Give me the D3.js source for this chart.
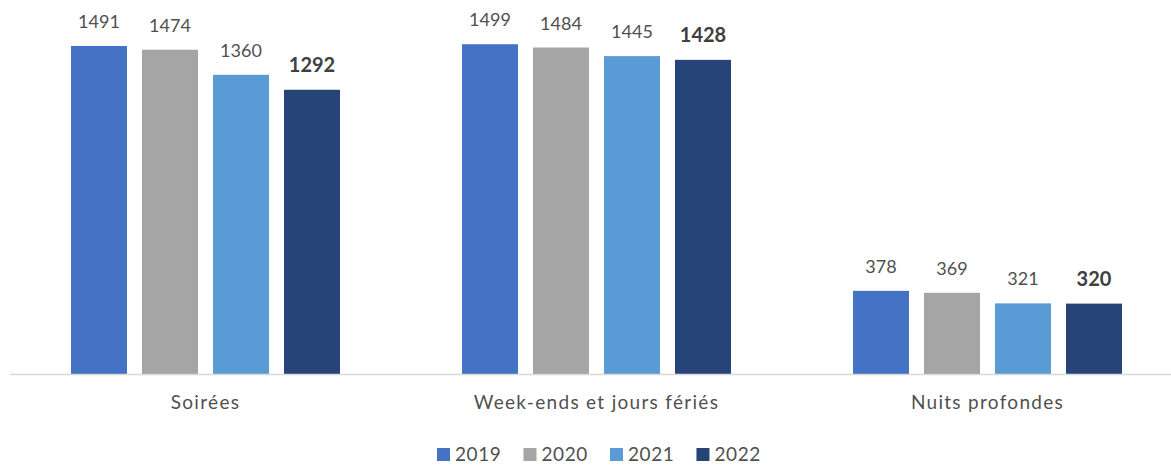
<!DOCTYPE html>
<html>
<head>
<meta charset="utf-8">
<script src="https://cdn.jsdelivr.net/npm/d3@7"></script>
<style>
  html, body { margin: 0; padding: 0; background: #fff; }
  svg { display: block; font-family: Lato, "Open Sans", sans-serif; }
</style>
</head>
<body>
<svg id="chart" width="1171" height="465"></svg>
<script>
// Time slots and the yearly values shown for each
const categories = ["Soirées", "Week-ends et jours fériés", "Nuits profondes"];
const years = ["2019", "2020", "2021", "2022"];
const v2019 = [1491, 1499, 378];
const v2020 = [1474, 1484, 369];
const v2021 = [1360, 1445, 321];
const v2022 = [1292, 1428, 320];
const colors = ["#4472C4", "#A5A5A5", "#5B9BD5", "#264478"];

const series = [v2019, v2020, v2021, v2022];
const rows = categories.map((c, i) => ({
  cat: c,
  vals: years.map((y, j) => ({ year: y, idx: j, value: series[j][i] }))
}));

const svg = d3.select("#chart");
const baseY = 374;
const textColor = "#505050";

const x0 = d3.scaleBand().domain(categories).range([10, 1183]);
const x1 = d3.scaleBand().domain(years).range([61, x0.bandwidth() - 61]).paddingInner(0.2113).paddingOuter(0);
const y = d3.scaleLinear().domain([0, 1600]).range([baseY, 22]);

// Bars
const groups = svg.append("g").selectAll("g").data(rows).join("g")
  .attr("transform", d => `translate(${x0(d.cat)},0)`);

groups.selectAll("rect").data(d => d.vals).join("rect")
  .attr("x", d => x1(d.year))
  .attr("y", d => y(d.value))
  .attr("width", x1.bandwidth())
  .attr("height", d => y(0) - y(d.value))
  .attr("fill", d => colors[d.idx]);

// Value labels, latest year in bold
groups.selectAll("text").data(d => d.vals).join("text")
  .attr("x", d => x1(d.year) + x1.bandwidth() / 2)
  .attr("y", d => y(d.value) - 18)
  .attr("text-anchor", "middle")
  .attr("font-size", d => d.idx === 3 ? 20 : 18)
  .attr("font-weight", d => d.idx === 3 ? 700 : 400)
  .attr("fill", d => d.idx === 3 ? "#404040" : textColor)
  .text(d => d.value);

// Category axis
const axis = svg.append("g").attr("transform", `translate(0,${baseY})`)
  .call(d3.axisBottom(x0).tickSize(0).tickPadding(0));
axis.select(".domain").attr("stroke", "#D9D9D9").attr("stroke-width", 1.5)
  .attr("d", "M10,0.5H1171");
axis.selectAll(".tick text")
  .attr("y", 35)
  .attr("dy", 0)
  .attr("font-size", 19)
  .attr("letter-spacing", 1.3)
  .attr("font-family", "Lato, 'Open Sans', sans-serif")
  .attr("fill", textColor);

// Legend
const legend = svg.append("g");
const items = legend.selectAll("g").data(years).join("g");
items.append("rect")
  .attr("width", 13).attr("height", 13)
  .attr("y", 448)
  .attr("fill", (d, i) => colors[i]);
items.append("text")
  .attr("x", 18).attr("y", 461)
  .attr("font-size", 19)
  .attr("letter-spacing", 0.6)
  .attr("fill", textColor)
  .text(d => d);
const gap = 22;
let cx = 0;
const offs = [];
items.each(function () {
  offs.push(cx);
  const w = d3.select(this).select("text").node().getComputedTextLength();
  cx += 18 + w + gap;
});
const start = 437;
items.attr("transform", (d, i) => `translate(${start + offs[i]},0)`);
</script>
</body>
</html>
